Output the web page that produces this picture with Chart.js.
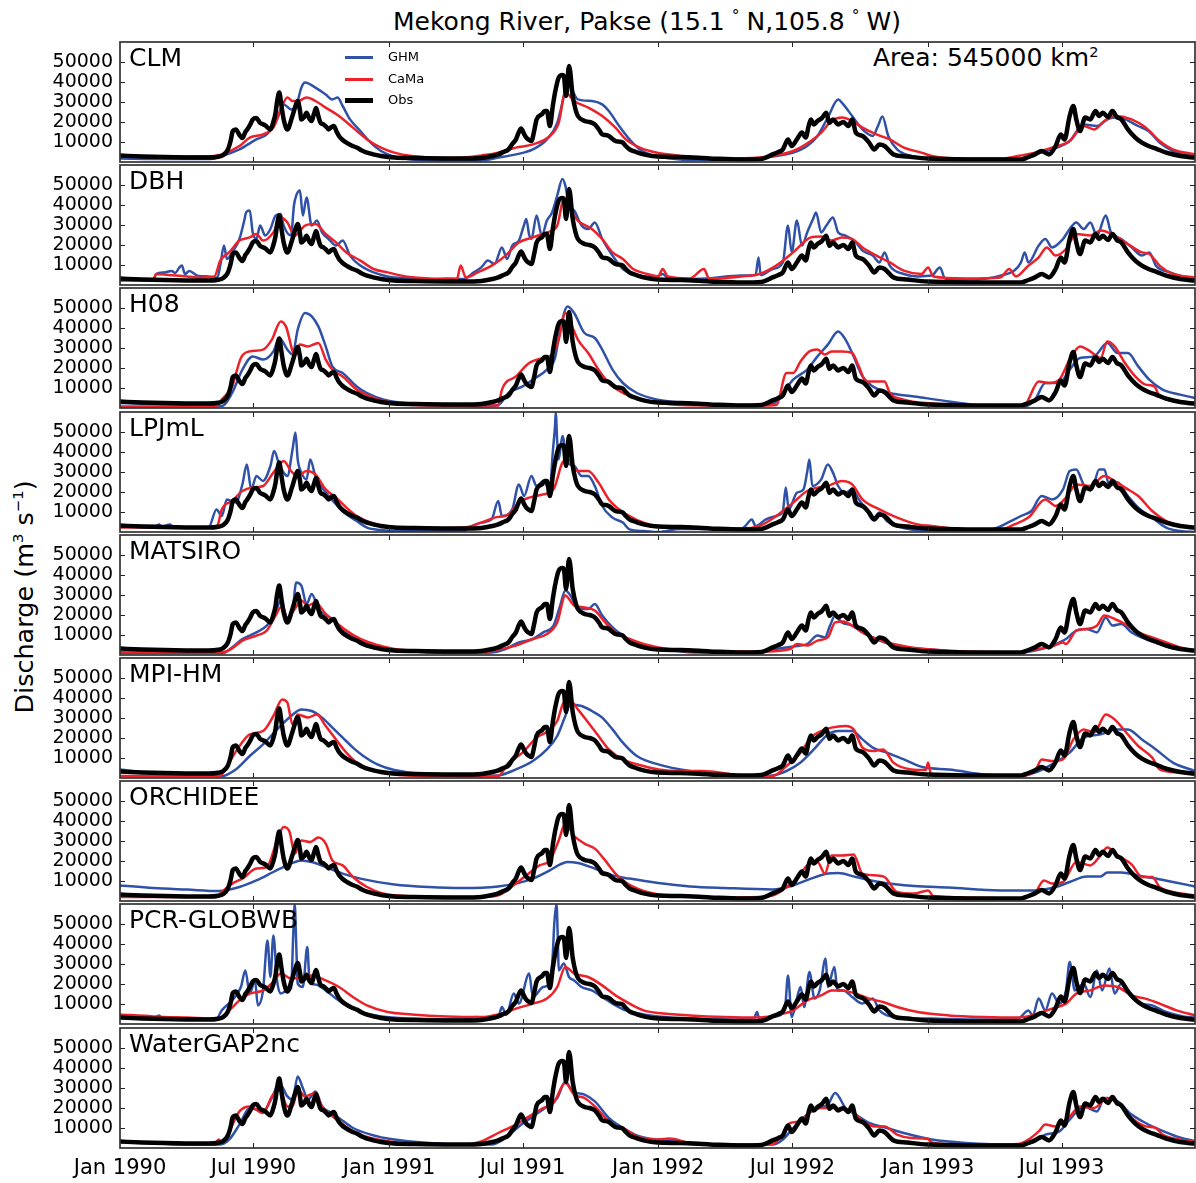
<!DOCTYPE html>
<html>
<head>
<meta charset="utf-8">
<script src="https://cdn.jsdelivr.net/npm/chart.js@4.4.1/dist/chart.umd.min.js"></script>
<style>
  body { margin: 0; background: #fff; font-family: "DejaVu Sans", sans-serif; }
  #wrap { position: relative; width: 1196px; height: 1183px; overflow: hidden; background: #fff; }
  .txt { position: absolute; white-space: nowrap; color: #000; line-height: 1; }
  .sup { font-size: 58%; position: relative; top: -0.65em; }
  .deg { font-size: 62%; position: relative; top: -0.6em; margin: 0 7px; }
  canvas { position: absolute; left: 0; }
  .lg { position: absolute; left: 345px; width: 28px; }
</style>
</head>
<body>
<div id="wrap">
  <div class="txt" style="left:297px;width:700px;text-align:center;top:9px;font-size:25px;">Mekong River, Pakse (15.1<span class="deg">&#176;</span>N,105.8<span class="deg">&#176;</span>W)</div>
  <div class="txt" style="left:873px;top:45px;font-size:25px;">Area: 545000 km<span class="sup">2</span></div>
  <div class="txt" style="left:25px;top:597px;font-size:25.5px;transform:translate(-50%,-50%) rotate(-90deg);">Discharge (m<span class="sup">3</span> s<span class="sup">&#8722;1</span>)</div>
</div>
<script>
"use strict";

// ── Data (day = days since 1 Jan 1990, discharge in m3/s) ──
const TICK_DAYS = [0, 181, 365, 546, 730, 912, 1096, 1277];
const TICK_LABELS = ["Jan 1990", "Jul 1990", "Jan 1991", "Jul 1991", "Jan 1992", "Jul 1992", "Jan 1993", "Jul 1993"];
const Y_TICKS = [10000, 20000, 30000, 40000, 50000];
const X_MAX = 1458;

const PANEL_NAMES = ["CLM", "DBH", "H08", "LPJmL", "MATSIRO", "MPI-HM", "ORCHIDEE", "PCR-GLOBWB", "WaterGAP2nc"];

const OBS = [[0,3200],[30,2800],[60,2500],[90,2300],[120,2200],[133,2600],[140,3500],[146,6000],[150,10500],[153,15500],[157,16300],[162,13500],[166,12000],[170,15000],[173,16500],[177,19000],[180,21300],[185,22000],[190,19600],[197,18300],[204,16300],[208,20000],[211,24600],[213,30000],[216,34700],[219,28000],[222,21300],[227,16300],[233,22000],[238,28000],[241,30500],[244,26000],[246,21300],[250,22500],[253,24600],[257,21500],[260,20500],[263,24000],[266,27000],[269,23000],[272,19600],[276,18800],[280,17500],[283,16300],[287,17500],[290,18000],[294,15000],[297,13000],[302,11000],[307,9700],[314,8300],[321,7200],[328,5800],[335,4700],[345,3700],[354,3000],[372,2200],[400,2000],[440,1800],[466,1700],[490,2000],[505,3000],[513,3800],[520,5000],[527,6300],[532,9000],[537,11300],[541,15000],[544,16700],[548,14000],[551,12200],[555,11000],[558,10500],[562,16000],[565,21300],[572,23800],[576,25500],[579,25500],[583,18000],[587,28000],[590,34700],[595,42200],[600,43500],[602,43000],[605,33000],[609,48000],[614,33000],[618,26000],[621,23000],[630,20500],[637,20000],[644,18800],[650,16000],[654,13800],[658,13500],[663,13000],[668,11500],[672,10500],[677,10200],[682,9700],[686,8000],[691,6300],[700,5000],[710,3800],[729,2700],[760,2500],[800,1800],[843,1200],[870,1500],[885,3800],[893,5000],[899,6300],[903,9500],[906,11300],[911,8000],[918,11300],[925,14700],[930,12200],[934,18000],[937,21300],[941,18800],[946,20500],[952,22000],[958,24600],[962,19600],[967,21300],[974,18800],[981,20000],[988,18000],[993,21300],[998,14700],[1007,13000],[1016,9700],[1023,6300],[1030,8800],[1037,8000],[1049,3800],[1068,2700],[1096,1700],[1150,1300],[1222,1300],[1232,2500],[1241,3800],[1250,5500],[1260,3800],[1269,8000],[1276,13800],[1281,11300],[1288,23000],[1293,28000],[1297,21300],[1302,15500],[1309,22200],[1316,21300],[1323,25500],[1328,23000],[1333,24600],[1340,22500],[1346,25500],[1352,22500],[1358,21300],[1367,16300],[1377,12200],[1386,9700],[1395,8000],[1405,6700],[1419,4700],[1438,3000],[1458,2200]];

const CLM_GHM = [[0,1800],[60,1500],[120,1500],[138,3000],[162,6300],[185,11300],[199,13800],[213,21300],[222,28800],[232,26300],[239,28000],[246,37200],[251,39700],[265,37200],[279,33800],[288,31300],[295,32200],[302,28000],[312,21300],[326,15500],[340,9700],[354,5500],[372,2700],[396,1300],[440,800],[490,800],[513,2200],[537,3800],[560,6300],[579,11300],[593,19600],[602,33000],[607,41300],[611,38000],[621,31300],[640,30500],[654,28800],[663,25500],[677,18000],[691,11300],[705,6300],[719,3800],[730,2700],[773,1000],[843,1000],[890,3000],[913,4700],[932,8000],[946,13000],[960,22200],[974,31300],[981,28800],[993,23000],[1007,16300],[1021,13000],[1028,18000],[1034,22700],[1042,13000],[1054,6300],[1073,3000],[1101,1300],[1150,800],[1222,800],[1241,3800],[1264,6300],[1288,10500],[1307,18800],[1325,18000],[1339,21300],[1349,22200],[1363,21300],[1381,18000],[1395,15500],[1410,9700],[1428,5500],[1458,3000]];
const CLM_CAMA = [[0,2700],[120,2700],[138,3800],[162,8000],[176,12200],[194,13800],[208,17200],[218,26300],[227,32200],[234,30500],[241,30500],[253,32200],[265,30500],[279,27200],[297,23000],[316,17200],[335,11300],[354,7200],[372,4700],[396,3000],[443,2000],[466,2200],[490,3300],[513,4700],[537,7200],[560,8800],[583,13000],[595,19600],[604,34700],[616,30500],[635,27200],[654,23000],[672,17200],[686,11300],[705,7200],[730,4500],[755,3300],[773,2200],[820,1700],[867,2200],[890,3300],[913,5500],[937,10500],[951,14700],[965,20500],[979,22200],[993,20500],[1007,17200],[1026,13800],[1044,11300],[1063,7200],[1087,4700],[1101,3000],[1147,1700],[1194,1700],[1218,3000],[1241,4700],[1264,7200],[1288,10500],[1307,18000],[1321,16300],[1335,20500],[1349,23000],[1372,21300],[1391,17200],[1410,10500],[1428,6300],[1458,3800]];

const DBH_GHM = [[0,2200],[45,2200],[49,5500],[60,6300],[70,7000],[75,6000],[80,8500],[84,9700],[88,5500],[94,7000],[105,4700],[120,4300],[132,3800],[136,9700],[141,19700],[145,13000],[152,16300],[162,23000],[169,33000],[171,36300],[176,37200],[180,26300],[185,23000],[190,29700],[197,24700],[204,28000],[211,34700],[218,35500],[222,29700],[232,24700],[236,40000],[239,44700],[244,47200],[248,34700],[253,43800],[260,29700],[267,32200],[274,26300],[283,23000],[293,19700],[302,22200],[312,14700],[326,9700],[344,6300],[363,4300],[391,3300],[419,2700],[443,3300],[466,3000],[480,6300],[490,8800],[499,12200],[508,10500],[518,18800],[525,13000],[532,19700],[541,22200],[548,30000],[551,33000],[555,25000],[558,23000],[565,34700],[572,24700],[579,32200],[586,36300],[593,44700],[600,53000],[604,49700],[609,39700],[616,37200],[626,29700],[635,28000],[644,31300],[654,23000],[668,14700],[682,8000],[696,5500],[715,4300],[730,4500],[736,5500],[745,3000],[796,3300],[843,4700],[862,5000],[866,13800],[869,5000],[885,8000],[899,11300],[906,29700],[911,16300],[918,32200],[925,19700],[932,26300],[940,33000],[944,36300],[951,26300],[958,29700],[967,33800],[974,26300],[984,24700],[998,21300],[1007,17200],[1021,14700],[1030,11300],[1037,16300],[1044,9700],[1063,5500],[1082,4300],[1101,4700],[1112,8800],[1119,3300],[1147,2700],[1176,3300],[1194,4700],[1213,7200],[1222,11300],[1227,16300],[1232,11300],[1246,19700],[1255,23000],[1264,18800],[1279,23000],[1288,28000],[1297,31300],[1307,28000],[1316,31300],[1325,24700],[1337,34700],[1344,26300],[1358,23000],[1372,18800],[1386,14700],[1396,16300],[1405,9700],[1424,6300],[1442,4300],[1458,3700]];
const DBH_CAMA = [[0,2700],[45,2700],[49,5500],[66,5000],[91,4300],[105,3800],[128,4300],[136,12200],[148,16300],[162,22200],[176,23800],[185,25500],[194,22200],[208,26300],[218,33800],[227,31300],[237,24700],[251,29700],[265,30500],[279,25500],[293,21300],[307,16300],[326,12200],[344,8000],[363,6300],[387,4300],[419,3300],[457,3000],[462,9700],[469,3800],[485,6300],[504,9700],[523,14700],[541,21300],[560,23800],[579,26300],[593,29700],[602,43000],[609,38800],[621,32200],[640,28000],[654,23000],[668,16300],[682,13000],[696,8000],[715,5500],[730,4300],[736,8000],[743,4300],[773,3300],[792,8000],[799,3300],[843,4300],[867,5500],[890,9700],[913,16300],[937,23800],[951,24300],[965,22200],[979,23800],[993,23000],[1007,18800],[1026,14700],[1044,11300],[1063,7200],[1087,5500],[1096,8800],[1103,4300],[1147,3300],[1194,3800],[1206,8000],[1215,4300],[1232,9700],[1246,13800],[1257,18800],[1269,14700],[1283,18000],[1297,25500],[1316,24700],[1330,27200],[1349,24700],[1367,20500],[1386,16300],[1396,15500],[1410,9700],[1428,5500],[1458,3800]];

const H08_GHM = [[0,2500],[90,1500],[138,1000],[152,7500],[166,19200],[180,25800],[194,24200],[208,28300],[216,35000],[227,29200],[234,26700],[241,39200],[251,47500],[260,45800],[269,40800],[279,30800],[288,20800],[302,17500],[321,10800],[335,7500],[358,4200],[396,2200],[443,1200],[490,800],[513,1500],[527,7500],[546,10800],[560,14200],[579,19200],[590,25000],[597,39200],[607,50800],[616,47500],[630,37500],[644,35000],[654,29200],[668,19200],[682,12500],[701,7500],[729,4200],[773,2500],[820,1500],[885,2000],[899,7500],[913,14200],[932,19200],[946,25800],[960,31700],[974,38300],[984,34200],[993,27500],[1007,15800],[1021,10800],[1044,7500],[1077,5800],[1124,3300],[1171,1200],[1227,800],[1241,4200],[1255,12500],[1274,12500],[1288,19200],[1302,25000],[1321,25800],[1339,32500],[1353,27500],[1367,27500],[1381,20800],[1396,14200],[1414,9200],[1438,6700],[1458,5000]];
const H08_CAMA = [[0,800],[130,800],[138,4200],[152,10800],[164,25000],[176,28300],[194,29200],[206,34200],[218,43300],[225,40800],[237,26700],[244,31700],[255,30800],[269,32500],[279,24200],[288,19200],[302,15800],[321,9200],[344,5000],[372,2500],[419,1200],[513,1200],[518,9200],[537,15800],[555,22500],[574,25000],[586,26700],[595,34200],[604,47500],[611,42500],[621,34200],[635,27500],[649,19200],[663,12500],[682,7500],[710,4200],[729,2800],[760,1500],[867,1200],[890,1500],[904,17500],[913,17500],[923,23300],[935,28300],[946,29200],[956,26700],[965,28300],[979,28300],[993,27500],[1002,20800],[1012,13300],[1026,13300],[1037,13300],[1044,7500],[1063,4200],[1101,2200],[1147,1200],[1227,800],[1232,4200],[1246,13300],[1260,12500],[1274,14200],[1288,24200],[1302,30800],[1316,28300],[1330,25000],[1339,33300],[1349,30800],[1363,22500],[1377,15800],[1391,11700],[1403,10800],[1410,5800],[1438,3300],[1458,2500]];

const LPJML_GHM = [[0,3000],[48,3000],[53,3800],[56,2500],[68,3800],[72,2500],[94,2200],[120,2200],[131,11300],[138,8000],[145,16300],[157,14700],[166,23800],[172,33800],[178,21300],[185,28000],[194,25500],[204,33000],[209,40500],[216,33800],[227,28000],[234,41300],[238,49700],[241,36300],[246,29700],[253,26300],[258,36300],[265,28000],[274,22200],[283,18000],[293,13800],[307,8800],[321,5500],[335,2200],[354,1000],[372,500],[466,500],[476,2700],[490,4700],[504,6300],[513,15500],[518,8000],[532,11300],[541,23800],[548,18000],[558,28000],[565,23000],[574,25500],[583,21300],[587,40000],[590,53000],[591,59700],[593,45000],[595,36300],[600,48000],[607,34700],[616,33000],[626,28000],[635,28000],[644,23000],[654,13000],[668,7200],[682,4700],[691,1300],[710,500],[730,0],[760,1500],[843,1500],[848,3000],[857,6300],[862,3000],[876,6300],[890,8000],[899,10500],[903,22200],[907,11300],[918,19600],[927,21300],[932,30000],[935,36300],[939,23000],[951,26300],[960,33800],[967,29700],[974,23000],[984,19600],[993,21300],[1002,16300],[1012,11300],[1021,6300],[1030,9700],[1040,5500],[1054,3000],[1073,1300],[1101,500],[1170,500],[1190,2200],[1204,4700],[1222,8000],[1236,10500],[1250,18000],[1264,16300],[1279,21300],[1288,30500],[1297,31300],[1307,23800],[1318,21300],[1328,31300],[1335,31300],[1342,23000],[1353,24700],[1367,18000],[1381,12200],[1400,7200],[1419,2200],[1438,500],[1458,0]];
const LPJML_CAMA = [[0,2200],[125,2200],[132,3000],[138,11300],[152,15500],[166,20500],[180,22200],[194,23000],[208,29700],[222,35500],[232,30500],[241,28000],[253,30500],[265,28800],[279,21300],[293,17200],[307,12200],[321,8000],[340,4700],[363,2700],[396,1700],[466,2200],[490,4700],[508,7200],[527,8800],[541,14700],[555,17200],[574,18800],[588,21300],[600,34700],[607,36300],[621,30500],[635,30500],[649,24700],[663,16300],[677,11300],[691,8000],[710,4700],[730,3000],[773,2200],[843,1700],[867,3000],[890,8000],[913,14700],[932,20500],[946,22200],[960,23000],[979,25500],[993,23800],[1007,16300],[1030,11300],[1054,7200],[1082,3800],[1101,3000],[1147,1300],[1194,1300],[1213,3800],[1232,7200],[1255,16300],[1269,13000],[1283,17200],[1297,23800],[1316,23000],[1335,28000],[1349,25500],[1363,22200],[1381,18000],[1400,10500],[1419,5500],[1438,3000],[1458,2200]];

const MATSIRO_GHM = [[0,1000],[140,1000],[152,3800],[166,8000],[185,11300],[199,14700],[211,21300],[218,27200],[227,18800],[234,22200],[239,36300],[246,34700],[253,25500],[260,30500],[269,23000],[279,19700],[288,18000],[302,12200],[321,8000],[344,4700],[372,2700],[419,1300],[466,1000],[504,1300],[523,3000],[541,6300],[560,8000],[574,11300],[588,14700],[597,24700],[604,32200],[611,29700],[621,23000],[635,23000],[644,25500],[654,19700],[668,13800],[682,9700],[701,5500],[730,3300],[780,1300],[867,1300],[890,3000],[913,4300],[932,5500],[946,9700],[956,8800],[963,14700],[970,19700],[979,16300],[993,14700],[1007,11300],[1026,8000],[1044,5500],[1068,3800],[1101,2700],[1147,1300],[1218,1000],[1241,2200],[1264,4700],[1283,8000],[1297,12200],[1311,13000],[1325,11300],[1337,18800],[1346,14700],[1358,15500],[1372,11300],[1391,8000],[1410,5500],[1428,3300],[1458,2200]];
const MATSIRO_CAMA = [[0,1500],[140,1500],[152,3300],[166,7200],[185,9700],[199,12200],[211,19700],[218,23800],[227,18800],[237,23000],[246,27200],[255,24700],[265,26300],[279,20500],[293,16300],[307,12200],[326,8000],[349,5000],[372,3000],[419,1700],[490,1300],[513,2700],[537,4700],[560,8000],[579,10500],[593,16300],[604,29700],[616,24700],[630,23800],[644,22200],[658,16300],[672,11300],[691,8000],[710,5500],[730,3800],[780,1700],[867,1700],[909,3000],[918,5500],[932,4700],[946,7200],[960,8800],[970,16300],[981,16700],[993,14700],[1007,11300],[1026,8000],[1049,5500],[1073,3800],[1101,2700],[1147,1700],[1218,1300],[1241,2700],[1264,4300],[1279,6300],[1283,5500],[1297,12200],[1311,13000],[1325,14700],[1335,19700],[1349,18000],[1363,15500],[1381,11300],[1400,8800],[1419,6300],[1438,3800],[1458,2200]];

const MPI_GHM = [[0,4300],[45,2300],[91,1500],[138,1000],[157,4300],[176,11000],[194,16800],[213,24300],[232,31000],[246,34300],[260,33500],[274,30200],[288,25200],[302,20200],[316,15200],[330,11000],[349,6800],[372,4000],[419,1800],[466,1000],[513,1300],[537,4300],[560,8500],[579,14300],[593,21000],[604,31000],[611,36800],[626,36000],[640,33500],[654,30200],[668,24300],[682,17700],[701,11000],[730,6800],[773,3500],[820,1800],[880,1000],[904,3500],[923,7700],[941,14300],[960,21800],[974,23500],[993,23500],[1007,19300],[1021,15200],[1040,12700],[1063,9300],[1091,5200],[1124,4300],[1171,1800],[1218,1000],[1241,2700],[1264,6800],[1288,12700],[1307,20200],[1330,21800],[1349,24300],[1367,24300],[1386,19300],[1405,14300],[1428,7700],[1458,3500]];
const MPI_CAMA = [[0,1000],[135,1000],[148,7700],[159,14300],[176,21800],[194,23500],[208,31000],[220,39300],[227,37700],[234,26800],[241,31800],[255,30200],[267,31800],[279,26000],[293,19300],[307,12700],[321,7700],[340,4300],[372,1800],[440,1000],[513,1000],[527,7700],[546,12700],[565,20200],[581,23500],[593,28500],[602,37700],[611,38500],[621,34300],[635,27700],[649,21000],[663,14300],[682,9300],[710,6000],[730,4300],[760,3500],[790,3500],[843,1300],[885,1000],[904,6000],[923,12700],[937,20200],[951,23500],[965,25200],[984,26000],[995,24300],[1007,15200],[1021,13500],[1035,14300],[1049,7700],[1073,4300],[1093,4000],[1096,7700],[1100,2000],[1150,1300],[1218,1000],[1241,3500],[1250,9300],[1264,8500],[1279,9300],[1293,19300],[1307,24300],[1321,22700],[1337,31800],[1349,29300],[1363,23500],[1381,16000],[1400,10200],[1410,4300],[1438,2700],[1458,1800]];

const ORCH_GHM = [[0,7800],[45,6500],[91,5700],[134,5000],[162,7000],[185,10300],[208,14500],[232,18700],[246,20300],[260,19500],[279,17000],[302,13700],[326,11200],[372,8300],[419,7000],[466,6500],[513,7300],[537,8700],[560,11200],[583,15300],[597,18300],[607,19500],[621,19000],[644,16200],[668,12800],[691,11200],[730,9000],[773,7300],[820,6500],[885,5800],[913,7800],[937,11200],[960,13700],[974,14000],[998,12000],[1030,9500],[1077,7500],[1124,6700],[1194,5300],[1241,5300],[1269,7000],[1288,9500],[1311,12300],[1330,12300],[1339,14200],[1358,14200],[1381,12800],[1405,11200],[1428,9500],[1458,7300]];
const ORCH_CAMA = [[0,2000],[130,2000],[138,4500],[152,8700],[166,11200],[185,16200],[199,17000],[213,30300],[222,37000],[230,34500],[237,23700],[246,30300],[258,29500],[269,31700],[279,28700],[288,20300],[302,17800],[316,12000],[335,7000],[363,3300],[419,2300],[490,2000],[513,2800],[537,8700],[551,12800],[569,17800],[583,20300],[595,30300],[604,38700],[616,32500],[630,28700],[644,26200],[658,20300],[672,13700],[686,9200],[710,5000],[730,3300],[773,2300],[843,1800],[885,2800],[904,7000],[918,11200],[932,17800],[946,19500],[956,13700],[965,22800],[979,22800],[995,23300],[1007,13700],[1026,12800],[1037,12000],[1054,4500],[1077,3700],[1096,5300],[1103,2500],[1147,1800],[1218,1200],[1241,4000],[1253,10300],[1264,8700],[1279,9500],[1297,19500],[1316,17800],[1330,22800],[1339,26700],[1353,22800],[1372,18300],[1386,12000],[1400,12000],[1410,7000],[1428,4500],[1458,2800]];

const PCR_GHM = [[0,3800],[45,2700],[53,4300],[57,2700],[91,2200],[130,2200],[138,6800],[152,11800],[164,18500],[170,26800],[176,15200],[183,21800],[187,9300],[194,16800],[200,41800],[204,23500],[208,44300],[213,21800],[218,15200],[227,16800],[232,17700],[235,45000],[237,60000],[239,40000],[241,20200],[248,18500],[254,38500],[257,22000],[260,20200],[269,19300],[279,16800],[293,12700],[307,9300],[326,6000],[354,3800],[396,2700],[466,2200],[485,3500],[490,2200],[513,3500],[518,8500],[524,4500],[534,15200],[541,10200],[555,25200],[560,13500],[574,18500],[583,20200],[587,35000],[589,50200],[592,60000],[594,40000],[595,26800],[602,30200],[609,23500],[616,21800],[626,18500],[640,16800],[654,13500],[668,10200],[686,6800],[710,4800],[730,3800],[773,2700],[820,2200],[860,3000],[864,6000],[867,2700],[890,3800],[902,8500],[906,24300],[911,3500],[918,12700],[923,18500],[928,8500],[935,26000],[942,12700],[949,16800],[957,32700],[960,18500],[969,28500],[973,16800],[981,16800],[993,13500],[1007,10200],[1021,12700],[1030,6800],[1054,3500],[1101,2700],[1171,2200],[1218,2700],[1232,6800],[1238,4300],[1246,12700],[1255,6800],[1264,15200],[1274,10200],[1283,16800],[1288,31000],[1295,16800],[1307,20200],[1316,13500],[1325,26800],[1332,16800],[1342,27700],[1349,15200],[1358,20200],[1372,13500],[1386,10200],[1400,9300],[1419,6000],[1442,3800],[1458,3200]];
const PCR_CAMA = [[0,4800],[45,3800],[91,3200],[134,2700],[148,6800],[162,11800],[176,15200],[194,16800],[208,21000],[218,25200],[232,22700],[246,23500],[260,24300],[279,21800],[297,18500],[316,13500],[335,9300],[363,6000],[396,4800],[443,3800],[490,3500],[513,4800],[537,7700],[560,10200],[579,12700],[593,18500],[604,28500],[616,25200],[635,23500],[654,19300],[672,14300],[691,10200],[710,6800],[730,5500],[773,4300],[820,3500],[867,3200],[895,4800],[913,6800],[932,11800],[951,14300],[965,16800],[979,16800],[998,15200],[1016,12700],[1035,11000],[1054,8500],[1082,6000],[1124,4300],[1171,3500],[1218,3200],[1241,4800],[1264,7700],[1283,10200],[1297,15200],[1316,16800],[1335,19300],[1353,18500],[1372,14300],[1391,12700],[1410,10200],[1433,6800],[1458,4300]];

const WG_GHM = [[0,3300],[45,2500],[91,1700],[135,1700],[148,4200],[162,11700],[176,20000],[194,18300],[206,25000],[216,32500],[227,25800],[234,24200],[241,35800],[248,30000],[255,24200],[265,28300],[274,20800],[283,18300],[297,15000],[316,10000],[340,6700],[372,4200],[419,2500],[466,1700],[504,1700],[523,5000],[541,10800],[560,15800],[579,20800],[593,25000],[604,33300],[614,28300],[630,26700],[644,23300],[663,15000],[682,10000],[705,5800],[730,4200],[760,3300],[773,2000],[820,1700],[885,1700],[899,4200],[913,10000],[932,16700],[946,20000],[960,21700],[970,27500],[984,20000],[998,16700],[1016,12500],[1040,10000],[1063,7500],[1101,4200],[1147,2500],[1218,1700],[1241,3300],[1255,6700],[1274,8300],[1288,14200],[1307,20800],[1325,18300],[1335,25000],[1353,23300],[1372,16700],[1391,12500],[1410,9200],[1433,5800],[1458,3300]];
const WG_CAMA = [[0,3300],[45,2500],[91,2000],[128,2000],[134,4200],[138,2500],[148,8300],[162,18300],[176,20800],[194,17500],[206,25800],[216,30000],[227,20800],[234,20800],[241,29200],[251,25800],[265,27500],[274,20800],[283,17500],[297,13300],[316,8300],[340,5000],[372,3000],[419,1700],[466,1700],[490,3300],[513,7500],[537,11700],[555,15800],[574,20000],[588,22500],[604,32500],[616,26700],[630,25000],[644,20800],[663,13300],[677,10000],[686,9200],[701,5800],[730,4200],[745,4700],[773,2500],[820,1700],[885,2000],[899,6700],[909,12500],[923,13300],[937,18300],[951,20000],[965,20000],[981,19200],[993,18300],[1007,13300],[1026,10800],[1037,10800],[1054,6700],[1073,5000],[1094,4700],[1103,2500],[1147,1700],[1218,2000],[1232,4200],[1246,8300],[1255,11700],[1269,10800],[1288,15800],[1302,20800],[1321,20000],[1339,25000],[1353,22500],[1372,15000],[1391,10800],[1405,10000],[1414,6700],[1438,4200],[1458,3000]];

const GHM_SERIES = [CLM_GHM, DBH_GHM, H08_GHM, LPJML_GHM, MATSIRO_GHM, MPI_GHM, ORCH_GHM, PCR_GHM, WG_GHM];
const CAMA_SERIES = [CLM_CAMA, DBH_CAMA, H08_CAMA, LPJML_CAMA, MATSIRO_CAMA, MPI_CAMA, ORCH_CAMA, PCR_CAMA, WG_CAMA];

// ── Look ───────────────────────────────────────────────────
const BLUE = "#2f52a8";
const RED = "#ec2129";
const BLACK = "#000000";
const FONT = "DejaVu Sans";
const PANEL_TOP0 = 42, PANEL_PITCH = 123.2, PANEL_H = 120;
const XLABEL_H = 30;

const wrap = document.getElementById("wrap");
const toXY = (arr) => arr.map(([x, y]) => ({ x, y }));

// Frame and inward tick marks on all four sides (matplotlib classic look).
const framePlugin = {
  id: "frame",
  afterDatasetsDraw(chart) {
    const { ctx, chartArea: a, scales } = chart;
    ctx.save();
    ctx.strokeStyle = "#222";
    ctx.lineWidth = 1;
    ctx.beginPath();
    for (const d of TICK_DAYS.slice(1)) {
      const x = Math.round(scales.x.getPixelForValue(d)) + 0.5;
      ctx.moveTo(x, a.top); ctx.lineTo(x, a.top + 5);
      ctx.moveTo(x, a.bottom); ctx.lineTo(x, a.bottom - 5);
    }
    for (const v of Y_TICKS) {
      const y = Math.round(scales.y.getPixelForValue(v)) + 0.5;
      ctx.moveTo(a.left, y); ctx.lineTo(a.left + 5, y);
      ctx.moveTo(a.right, y); ctx.lineTo(a.right - 5, y);
    }
    ctx.stroke();
    ctx.strokeStyle = "#333";
    ctx.lineWidth = 1.7;
    ctx.strokeRect(a.left, a.top, a.right - a.left, a.bottom - a.top);
    ctx.restore();
  },
};

function addText(html, style) {
  const d = document.createElement("div");
  d.className = "txt";
  d.innerHTML = html;
  Object.assign(d.style, style);
  wrap.appendChild(d);
}

PANEL_NAMES.forEach((name, i) => {
  const top = Math.round(PANEL_TOP0 + i * PANEL_PITCH);
  const last = i === PANEL_NAMES.length - 1;
  const cv = document.createElement("canvas");
  cv.width = 1196;
  cv.height = PANEL_H + 6 + (last ? XLABEL_H : 0);
  cv.style.top = (top - 3) + "px";
  wrap.appendChild(cv);

  new Chart(cv.getContext("2d"), {
    type: "line",
    data: {
      datasets: [
        { label: "Obs", data: toXY(OBS), borderColor: BLACK, borderWidth: 4.5, order: 0 },
        { label: "CaMa", data: toXY(CAMA_SERIES[i]), borderColor: RED, borderWidth: 2.5, order: 1 },
        { label: "GHM", data: toXY(GHM_SERIES[i]), borderColor: BLUE, borderWidth: 2.5, order: 2 },
      ],
    },
    options: {
      responsive: false,
      animation: false,
      layout: { padding: { top: 3, bottom: 3, left: 0, right: 1 } },
      elements: {
        point: { radius: 0 },
        line: { cubicInterpolationMode: "monotone", borderJoinStyle: "round", borderCapStyle: "round" },
      },
      plugins: { legend: { display: false }, tooltip: { enabled: false } },
      scales: {
        x: {
          type: "linear",
          min: 0, max: X_MAX,
          display: last,
          grid: { display: false, drawTicks: false },
          border: { display: false },
          afterBuildTicks: (s) => { s.ticks = TICK_DAYS.map((v) => ({ value: v })); },
          afterFit: (s) => {
            s.height = last ? XLABEL_H : 0;
            s.paddingLeft = 0; s.paddingRight = 0;
          },
          ticks: {
            autoSkip: false, maxRotation: 0, padding: 8, color: "#000",
            font: { family: FONT, size: 21 },
            callback: (v, idx) => TICK_LABELS[idx],
          },
        },
        y: {
          min: 0, max: 60000,
          grid: { display: false, drawTicks: false },
          border: { display: false },
          afterBuildTicks: (s) => { s.ticks = Y_TICKS.map((v) => ({ value: v })); },
          afterFit: (s) => {
            s.width = 120;
            s.paddingTop = 0; s.paddingBottom = 0;
          },
          ticks: {
            autoSkip: false, padding: 7, color: "#000",
            font: { family: FONT, size: 19 },
            callback: (v) => String(v),
          },
        },
      },
    },
    plugins: [framePlugin],
  });

  addText(name, { left: "129px", top: (top + 3) + "px", fontSize: "25px" });
});

// Legend inside the first panel.
const LEGEND = [["GHM", BLUE, 3, 57], ["CaMa", RED, 3, 79], ["Obs", BLACK, 5, 100]];
for (const [label, color, w, y] of LEGEND) {
  const ln = document.createElement("div");
  ln.className = "lg";
  ln.style.top = (y - w / 2) + "px";
  ln.style.height = w + "px";
  ln.style.background = color;
  wrap.appendChild(ln);
  addText(label, { left: "388px", top: (y - 7) + "px", fontSize: "13px" });
}
</script>
</body>
</html>
